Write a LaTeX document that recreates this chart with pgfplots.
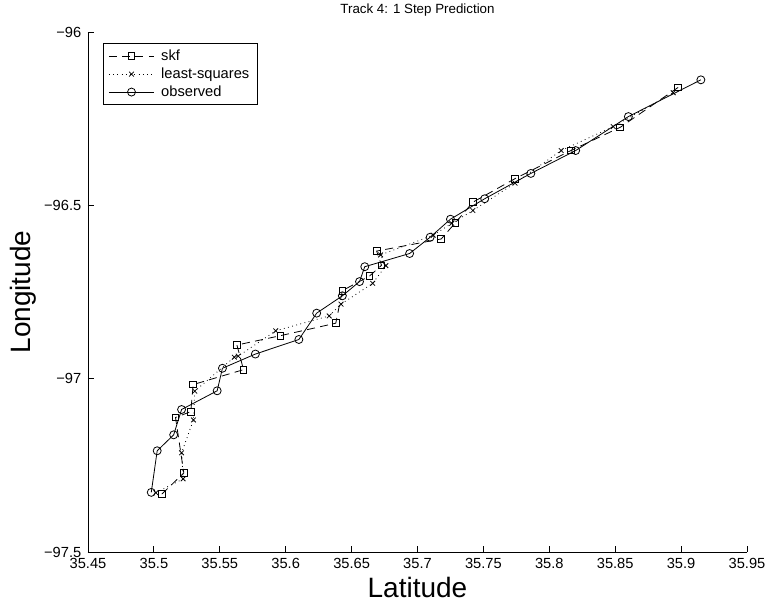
\documentclass[border=0pt]{standalone}
\usepackage{fontspec}
\setmainfont{Liberation Sans}
\usepackage{pgfplots}
\pgfplotsset{compat=1.18}
\begin{document}
\begin{tikzpicture}
\path[use as bounding box] (-66pt,-41.25pt) rectangle (510pt,414pt);
\begin{axis}[
  at={(0,0)}, anchor=south west,
  scale only axis, width=494.25pt, height=390pt,
  xmin=35.45, xmax=35.95, ymin=-97.5, ymax=-96,
  axis x line*=bottom, axis y line*=left,
  axis line style={-, line width=0.6pt},
  tick align=inside, major tick length=4.5pt,
  tick style={line width=0.6pt, black},
  xtick={35.45,35.5,35.55,35.6,35.65,35.7,35.75,35.8,35.85,35.9,35.95},
  xticklabels={35.45,35.5,35.55,35.6,35.65,35.7,35.75,35.8,35.85,35.9,35.95},
  ytick={-97.5,-97,-96.5,-96},
  yticklabels={−97.5,−97,−96.5,−96},
  ticklabel style={font=\fontsize{11}{13}\selectfont},
  xticklabel style={yshift=-1.5pt},
  yticklabel style={xshift=-1.5pt},
  title={Track 4: 1 Step Prediction},
  title style={font=\fontsize{10}{12}\selectfont, at={(axis description cs:0.5,1.027)}, anchor=center},
  xlabel={Latitude},
  xlabel style={font=\fontsize{21}{25}\selectfont, at={(axis description cs:0.5,-0.0692)}, anchor=center},
  ylabel={Longitude},
  ylabel style={font=\fontsize{21}{25}\selectfont, at={(axis description cs:-0.0986,0.5)}, anchor=center},
  legend style={at={(axis description cs:0.0223,0.978)}, anchor=north west,
    font=\fontsize{11}{13}\selectfont, draw=black, line width=0.6pt,
    inner xsep=4pt, inner ysep=2.5pt, row sep=0pt, column sep=3pt},
  legend cell align=left,
  legend image code/.code={\draw[mark repeat=2,mark phase=2,#1] plot coordinates {(0pt,0pt) (17pt,0pt) (34pt,0pt)};},
]
\addplot[black, line width=0.6pt, dash pattern=on 6pt off 4pt, mark=square, mark size=2.5pt, mark options={solid}] coordinates {
(35.506,-97.333) (35.5227,-97.272) (35.5164,-97.112) (35.528,-97.095) (35.5298,-97.017)
(35.568,-96.974) (35.563,-96.903) (35.596,-96.876) (35.638,-96.840) (35.643,-96.746)
(35.6636,-96.704) (35.6727,-96.673) (35.669,-96.632) (35.718,-96.597) (35.7288,-96.550)
(35.742,-96.491) (35.774,-96.423) (35.8164,-96.342) (35.8538,-96.275) (35.8977,-96.160)
};
\addlegendentry{skf}
\addplot[black, line width=0.6pt, dash pattern=on 0.6pt off 2.6pt, mark=x, mark size=2.5pt, mark options={solid}] coordinates {
(35.5015,-97.329) (35.5222,-97.289) (35.521,-97.214) (35.530,-97.119) (35.531,-97.036)
(35.561,-96.938) (35.564,-96.935) (35.5924,-96.862) (35.633,-96.819) (35.642,-96.785)
(35.666,-96.725) (35.676,-96.674) (35.672,-96.643) (35.712,-96.586) (35.726,-96.552)
(35.742,-96.515) (35.774,-96.436) (35.809,-96.342) (35.8485,-96.273) (35.894,-96.175)
};
\addlegendentry{least-squares}
\addplot[black, line width=0.6pt, solid, mark=o, mark size=3pt] coordinates {
(35.498,-97.328) (35.5025,-97.208) (35.515,-97.162) (35.521,-97.089) (35.548,-97.035)
(35.552,-96.970) (35.577,-96.929) (35.610,-96.887) (35.6235,-96.811) (35.643,-96.761)
(35.656,-96.720) (35.660,-96.677) (35.694,-96.639) (35.7096,-96.592) (35.725,-96.540)
(35.751,-96.481) (35.786,-96.408) (35.820,-96.342) (35.860,-96.244) (35.915,-96.138)
};
\addlegendentry{observed}
\end{axis}
\end{tikzpicture}
\end{document}
